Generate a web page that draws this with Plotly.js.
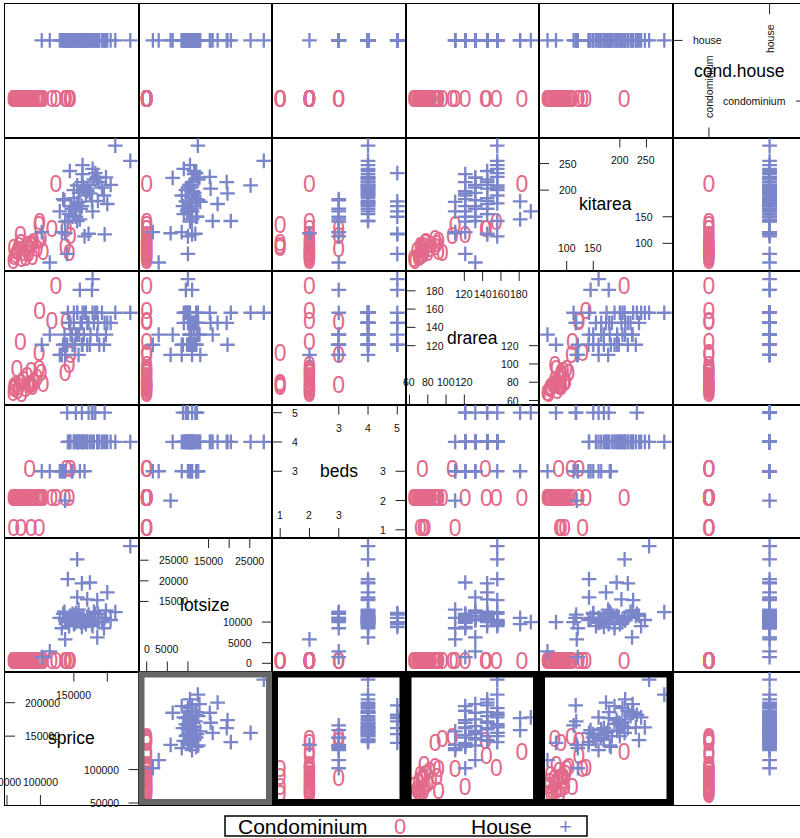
<!DOCTYPE html>
<html><head><meta charset="utf-8">
<script src="https://cdn.plot.ly/plotly-3.0.1.min.js"></script>
<style>html,body{margin:0;padding:0;overflow:hidden;background:#fff}#chart{width:810px;height:838px}</style>
</head><body><div id="chart"></div>
<script>
// ---------------- data ----------------
const varNames = ["sprice","lotsize","beds","drarea","kitarea","cond.house"];
const condLevels = ["condominium","house"];

const condoSprice  = [123000,99000,117000,139000,145000,137000,98000,70000,65000,98000,84000,143000,59300,61000,60000,63000,66000,68000,71000,72000,75000,78000,80000,82000,86000,88000,90000,95000,101000,104000,86000];
const condoLotsize = [0,0,0,0,0,0,0,0,0,0,0,0,0,0,0,0,0,0,0,0,0,0,0,0,0,0,0,0,0,0,0];
const condoBeds    = [2,2,2,3,3,2,1,2,2,2,3,2,2,2,1,2,2,2,1,2,2,2,2,2,1,2,2,2,2,2,2];
const condoDrarea  = [183,155,144,143,107,88,110,121,92,92,74,96,66,70,72,75,68,72,77,64.6,80,70,84,74,75,72,78,82,88,76,90];
const condoKitarea = [208,136,123,123,109,89,130,111,80,100,85,78,63.4,70,87,74,82,90,96,66,78,68,92,76,90,70,98,86,104,80,94];

const houseSprice  = [234400,212000,155000,141000,162000,174000,200000,155000,170000,185000,137000,185000,114000,102000,178000,177000,159000,144000,163000,182000,196000,166000,140000,134000,129000,137000,136000,132000,
                      145000,150000,152000,155000,158000,160000,148000,165000,168000,170000,175000,180000,188000,192000,198000,205000,143000,153000,162000,172000,157000,147000,163000,178000,186000,195000,150000];
const houseLotsize = [28400,12400,25200,20400,19400,19600,17200,16000,15500,15300,5800,6300,2900,1500,10000,9500,11000,11500,10500,12000,11000,10000,10000,12000,11000,10500,12500,8500,
                      10500,11000,9800,10200,11500,10000,12000,10800,9500,11200,10400,12500,11000,10000,12800,10500,9000,12200,8800,11800,13000,10800,11500,9000,12000,8500,9500];
const houseBeds    = [4,4,4,4,4,4,4,4,4,4,2,4,3,3,5,5,3,4,4,5,5,3,5,3,3,3,3,3,
                      4,4,4,4,4,4,3,4,4,4,4,4,4,4,4,4,4,5,5,5,4,3,4,4,4,4,4];
const houseDrarea  = [156,156,156,156,145,121,145,132,145,156,110,132,132,121,192.7,181,181,145,156,156,145,156,121,121,110,121,132,110,
                      132,145,121,156,132,145,121,132,156,121,132,145,121,156,132,145,145,132,121,145,110,132,121,156,145,121,156];
const houseKitarea = [255,283.6,209,142,215,194,174,142,203,225,119,223,64,121,160,179,145,236,247,232,117,113,80,183,160,141,181,121,
                      170,185,160,175,195,165,150,205,190,198,210,220,215,205,224,210,155,150,170,118,178,165,230,240,180,190,200];

// tick values for the diagonal panels
const spriceTicks  = [50000,100000,150000,200000];
const lotsizeTicks = [0,5000,10000,15000,20000,25000];
const bedsTicks    = [1,2,3,4,5];
const drareaTicks  = [60,80,100,120,140,160,180];
const kitareaTicks = [100,150,200,250];
const condTicks    = ["condominium","house"];

// ---------------- build ----------------
const condo = {sprice:condoSprice, lotsize:condoLotsize, beds:condoBeds, drarea:condoDrarea, kitarea:condoKitarea,
               "cond.house": condoSprice.map(()=>condLevels[0])};
const house = {sprice:houseSprice, lotsize:houseLotsize, beds:houseBeds, drarea:houseDrarea, kitarea:houseKitarea,
               "cond.house": houseSprice.map(()=>condLevels[1])};
const ticks = {sprice:spriceTicks, lotsize:lotsizeTicks, beds:bedsTicks, drarea:drareaTicks, kitarea:kitareaTicks, "cond.house":condTicks};

const W = 810, H = 838;
const M = {l:5, r:4, t:4, b:33};
const N = 6;
const panelPx = (W - M.l - M.r) / N;
const PINK = "#E3698A", BLUE = "#7A86C9";
const FONT = '"Liberation Sans", Arial, Helvetica, sans-serif';
const tickFont = 10.5;

function limits(v){
  if (v === "cond.house") return [-0.6, 1.6];
  const all = condo[v].concat(house[v]);
  const mn = Math.min(...all), mx = Math.max(...all), e = 0.07*(mx-mn);
  return [mn-e, mx+e];
}
const lims = {}; varNames.forEach(v=>lims[v]=limits(v));

const ctx = document.createElement("canvas").getContext("2d");
ctx.font = tickFont + 'px "Liberation Sans"';
function fmt(v){ return String(v); }
function keepNonOverlap(vals, lim){
  const kept=[]; let lastRight=-Infinity;
  vals.forEach(v=>{
    const px=(v-lim[0])/(lim[1]-lim[0])*panelPx;
    const w=ctx.measureText(fmt(v)).width;
    if (px - w/2 >= lastRight){ kept.push(v); lastRight = px + w/2; }
  });
  return kept;
}

const data = [], layout = {
  width: W, height: H, margin: M, showlegend: false,
  paper_bgcolor: "#fff", plot_bgcolor: "#fff",
  font: {family: FONT, color: "#000"},
  annotations: [], shapes: []
};

for (let r=0; r<N; r++){
  for (let c=0; c<N; c++){
    const k = r*N + c + 1;
    const xs = k===1 ? "" : String(k);
    const xv = varNames[c], yv = varNames[N-1-r];
    const axBase = {showgrid:false, zeroline:false, showline:true, mirror:true, linecolor:"#000", linewidth:1,
                    ticks:"", showticklabels:false, fixedrange:true};
    layout["xaxis"+xs] = Object.assign({}, axBase, {domain:[c/N,(c+1)/N], anchor:"y"+xs, range:lims[xv],
        type: xv==="cond.house"?"category":"linear", categoryorder:"array", categoryarray:condLevels});
    layout["yaxis"+xs] = Object.assign({}, axBase, {domain:[1-(r+1)/N,1-r/N], anchor:"x"+xs, range:lims[yv],
        type: yv==="cond.house"?"category":"linear", categoryorder:"array", categoryarray:condLevels});
    if (xv !== yv){
      data.push({type:"scatter", mode:"text", x:condo[xv], y:condo[yv], xaxis:"x"+xs, yaxis:"y"+xs,
        text:"0", textposition:"middle center", textfont:{family:FONT, size:23, color:PINK}, hoverinfo:"skip", cliponaxis:true});
      data.push({type:"scatter", mode:"markers", x:house[xv], y:house[yv], xaxis:"x"+xs, yaxis:"y"+xs,
        marker:{symbol:"cross-thin", size:10.5, color:BLUE, line:{width:2.3, color:BLUE}}, hoverinfo:"skip", cliponaxis:true});
    } else {
      data.push({type:"scatter", mode:"markers", x:[], y:[], xaxis:"x"+xs, yaxis:"y"+xs, hoverinfo:"skip"});
      const v = xv, tv = ticks[v], n = tv.length;
      const lower = tv.slice(0, Math.ceil(n/2)), upper = tv.slice(Math.floor(n/2));
      const xr = "x"+xs, yr = "y"+xs;
      const tl = 10/panelPx;
      layout.annotations.push({xref:xr+" domain", yref:yr+" domain", x:0.5, y:0.5, text:v, showarrow:false,
        font:{size:17.5, family:FONT, color:"#000"}});
      const tf = {size:tickFont, family:FONT, color:"#111"};
      const tlines = {color:"#222", width:1};
      const isCat = v==="cond.house";
      upper.forEach(t=>{
        layout.shapes.push({type:"line", xref:xr+" domain", yref:yr, x0:0, x1:tl, y0:t, y1:t, line:tlines});
        layout.annotations.push({xref:xr+" domain", yref:yr, x:0, y:t, xanchor:"left", yanchor:"middle", xshift:18,
          text:fmt(t), showarrow:false, font:tf});
      });
      lower.forEach(t=>{
        layout.shapes.push({type:"line", xref:xr+" domain", yref:yr, x0:1-tl, x1:1, y0:t, y1:t, line:tlines});
        layout.annotations.push({xref:xr+" domain", yref:yr, x:1, y:t, xanchor:"right", yanchor:"middle", xshift:-18,
          text:fmt(t), showarrow:false, font:tf});
      });
      const lowKeep = isCat ? lower : keepNonOverlap(lower, lims[v]);
      lower.forEach(t=>{
        layout.shapes.push({type:"line", xref:xr, yref:yr+" domain", x0:t, x1:t, y0:0, y1:tl, line:tlines});
        if (lowKeep.indexOf(t) >= 0)
          layout.annotations.push({xref:xr, yref:yr+" domain", x:t, y:0, xanchor:"center", yanchor:"bottom",
            yshift:isCat?18:15, textangle:isCat?-90:0, text:fmt(t), showarrow:false, font:tf});
      });
      const upKeep = isCat ? upper : keepNonOverlap(upper, lims[v]);
      upper.forEach(t=>{
        layout.shapes.push({type:"line", xref:xr, yref:yr+" domain", x0:t, x1:t, y0:1-tl, y1:1, line:tlines});
        if (upKeep.indexOf(t) >= 0)
          layout.annotations.push({xref:xr, yref:yr+" domain", x:t, y:1, xanchor:"center", yanchor:"top",
            yshift:isCat?-18:-15, textangle:isCat?-90:0, text:fmt(t), showarrow:false, font:tf});
      });
    }
  }
}

// highlighted panels in the bottom row
const inset = 3/panelPx;
[[32,"#666666"],[33,"#000000"],[34,"#000000"],[35,"#000000"]].forEach(([k,col])=>{
  layout.shapes.push({type:"rect", xref:"x"+k+" domain", yref:"y"+k+" domain",
    x0:inset, x1:1-inset, y0:inset, y1:1-inset, line:{color:col, width:6}, fillcolor:"rgba(0,0,0,0)"});
});

// key
const plotW = W - M.l - M.r, plotH = H - M.t - M.b;
const px2x = p => (p - M.l)/plotW;
const py2y = p => (H - M.b - p)/plotH;
layout.shapes.push({type:"rect", xref:"paper", yref:"paper", x0:px2x(225), x1:px2x(587), y0:py2y(816), y1:py2y(836),
  line:{color:"#000", width:1.5}, fillcolor:"rgba(0,0,0,0)"});
const keyY = py2y(826.5);
layout.annotations.push({xref:"paper", yref:"paper", x:px2x(236), y:keyY, xanchor:"left", yanchor:"middle", text:"Condominium",
  showarrow:false, font:{size:21, family:FONT, color:"#000"}});
layout.annotations.push({xref:"paper", yref:"paper", x:px2x(400), y:keyY, xanchor:"center", yanchor:"middle", text:"0",
  showarrow:false, font:{size:22, family:FONT, color:PINK}});
layout.annotations.push({xref:"paper", yref:"paper", x:px2x(469), y:keyY, xanchor:"left", yanchor:"middle", text:"House",
  showarrow:false, font:{size:21, family:FONT, color:"#000"}});
layout.annotations.push({xref:"paper", yref:"paper", x:px2x(565), y:keyY, xanchor:"center", yanchor:"middle", text:"+",
  showarrow:false, font:{size:22, family:FONT, color:BLUE}});

Plotly.newPlot("chart", data, layout, {displayModeBar:false, staticPlot:true});
</script></body></html>
